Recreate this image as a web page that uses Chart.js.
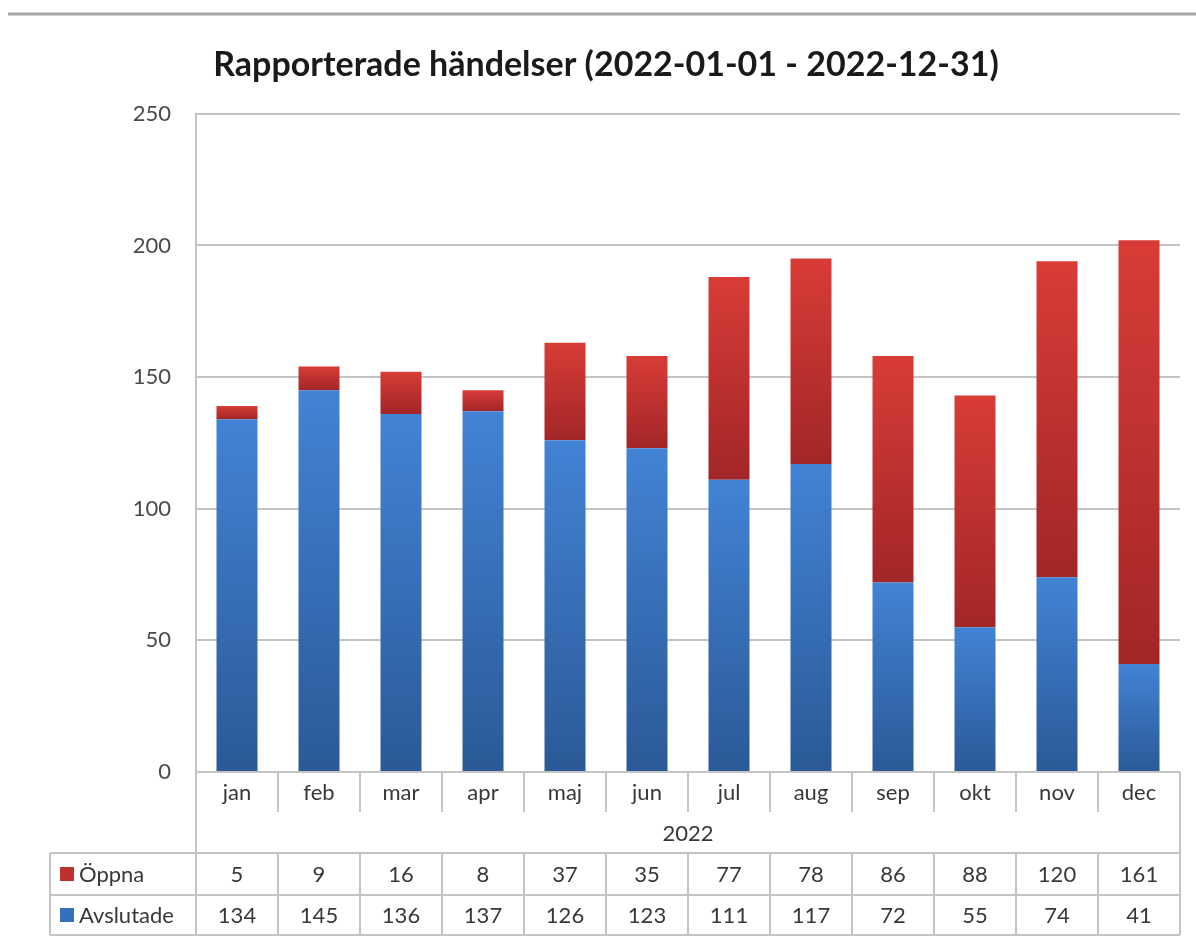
<!DOCTYPE html>
<html>
<head>
<meta charset="utf-8">
<script src="https://cdn.jsdelivr.net/npm/chart.js@4"></script>
<style>
  html, body { margin: 0; padding: 0; background: #fff; }
  #wrap { width: 1196px; height: 944px; }
</style>
</head>
<body>
<div id="wrap"><canvas id="popChart" width="1196" height="944"></canvas></div>
<script>
const months = ["jan", "feb", "mar", "apr", "maj", "jun", "jul", "aug", "sep", "okt", "nov", "dec"];
const yearLabel = "2022";
const oppna = [5, 9, 16, 8, 37, 35, 77, 78, 86, 88, 120, 161];
const avslutade = [134, 145, 136, 137, 126, 123, 111, 117, 72, 55, 74, 41];
const yMin = 0;
const yMax = 250;
const yStep = 50;

const font = "Lato, 'Open Sans', sans-serif";
const lineColor = "#c4c4c4";
const textColor = "#383838";

// vertical gradient per bar segment, lighter at the top
const segmentFill = (top, bottom, bases) => (c) => {
    const chart = c.chart;
    const y = chart.scales && chart.scales.y;
    if (!chart.chartArea || !y || c.dataIndex === undefined) return top;
    const base = bases ? bases[c.dataIndex] : 0;
    const val = c.dataset.data[c.dataIndex];
    const y0 = y.getPixelForValue(base + val);
    const y1 = y.getPixelForValue(base);
    if (!isFinite(y0) || !isFinite(y1) || y0 === y1) return top;
    const g = chart.ctx.createLinearGradient(0, y0, 0, y1);
    g.addColorStop(0, top);
    g.addColorStop(1, bottom);
    return g;
};

// data table under the plot: month row, year row, one row per series
const dataTable = {
    id: "dataTable",
    beforeDraw(chart) {
        const ctx = chart.ctx;
        ctx.save();
        ctx.fillStyle = "#fff";
        ctx.fillRect(0, 0, chart.width, chart.height);
        ctx.strokeStyle = "#a6a6a6";
        ctx.lineWidth = 3;
        ctx.beginPath();
        ctx.moveTo(8, 14);
        ctx.lineTo(chart.width, 14);
        ctx.stroke();
        ctx.restore();
    },
    afterDraw(chart) {
        const ctx = chart.ctx;
        const x = chart.scales.x;
        const area = chart.chartArea;
        const left = area.left, right = area.right, top = area.bottom;
        const colW = (right - left) / months.length;
        const rowCat = top + 40;
        const rowYear = top + 81;
        const rowA = rowYear + 42;
        const rowB = rowA + 40;
        const boxLeft = 50;

        ctx.save();
        ctx.strokeStyle = lineColor;
        ctx.lineWidth = 2;
        ctx.beginPath();
        // outer verticals
        ctx.moveTo(left, top); ctx.lineTo(left, rowB);
        ctx.moveTo(right, top); ctx.lineTo(right, rowB);
        ctx.moveTo(boxLeft, rowYear); ctx.lineTo(boxLeft, rowB);
        // horizontals
        [rowYear, rowA, rowB].forEach((yy) => {
            ctx.moveTo(boxLeft, yy); ctx.lineTo(right, yy);
        });
        // column separators
        for (let k = 1; k < months.length; k++) {
            const xx = left + colW * k;
            ctx.moveTo(xx, top); ctx.lineTo(xx, rowCat);
            ctx.moveTo(xx, rowYear); ctx.lineTo(xx, rowB);
        }
        ctx.stroke();

        ctx.fillStyle = textColor;
        ctx.font = "22px " + font;
        ctx.textAlign = "center";
        ctx.textBaseline = "middle";
        months.forEach((m, i) => {
            const cx = x.getPixelForValue(i);
            ctx.fillText(m, cx, (top + rowCat) / 2 + 1);
            ctx.fillText(String(oppna[i]), cx, (rowYear + rowA) / 2 + 1);
            ctx.fillText(String(avslutade[i]), cx, (rowA + rowB) / 2 + 1);
        });
        ctx.fillText(yearLabel, (left + right) / 2, (rowCat + rowYear) / 2 + 1);

        // series keys
        const keys = [
            { label: chart.data.datasets[1].label, color: "#c0302e", y: (rowYear + rowA) / 2 },
            { label: chart.data.datasets[0].label, color: "#3470bd", y: (rowA + rowB) / 2 }
        ];
        ctx.textAlign = "left";
        keys.forEach((k) => {
            ctx.fillStyle = k.color;
            ctx.fillRect(60, k.y - 7, 14, 14);
            ctx.fillStyle = textColor;
            ctx.fillText(k.label, 79, k.y + 1);
        });
        ctx.restore();
    }
};

new Chart(document.getElementById("popChart"), {
    type: "bar",
    data: {
        labels: months,
        datasets: [
            {
                label: "Avslutade",
                data: avslutade,
                backgroundColor: segmentFill("#4283d5", "#2b5997", null),
                borderWidth: 0
            },
            {
                label: "Öppna",
                data: oppna,
                backgroundColor: segmentFill("#d83c37", "#a22627", avslutade),
                borderWidth: 0
            }
        ]
    },
    options: {
        responsive: false,
        animation: false,
        categoryPercentage: 1,
        barPercentage: 0.5,
        layout: { padding: { left: 32, right: 16, top: 0, bottom: 172 } },
        plugins: {
            legend: { display: false },
            tooltip: { enabled: false },
            title: {
                display: true,
                text: "Rapporterade händelser (2022-01-01 - 2022-12-31)",
                color: "#1a1a1a",
                font: { family: font, size: 34, weight: "bold", lineHeight: 1.2 },
                padding: { top: 45, bottom: 28 }
            }
        },
        scales: {
            x: {
                stacked: true,
                display: false
            },
            y: {
                stacked: true,
                min: yMin,
                max: yMax,
                afterFit(scale) { scale.width = 164; },
                ticks: {
                    stepSize: yStep,
                    color: "#4a4a4a",
                    padding: 25,
                    font: { family: font, size: 22 }
                },
                grid: {
                    color: lineColor,
                    lineWidth: 2,
                    drawTicks: false
                },
                border: { color: lineColor, width: 2 }
            }
        }
    },
    plugins: [dataTable]
});
</script>
</body>
</html>
